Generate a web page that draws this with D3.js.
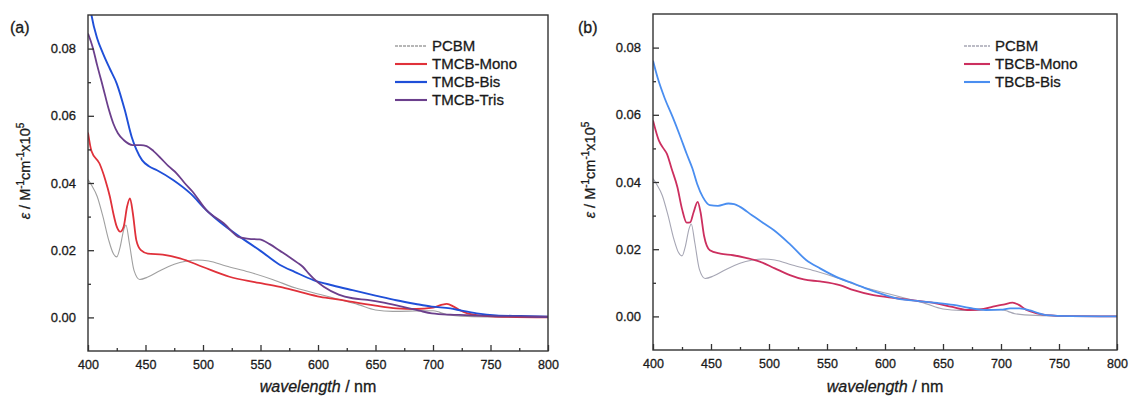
<!DOCTYPE html>
<html>
<head>
<meta charset="utf-8">
<script src="https://cdn.jsdelivr.net/npm/d3@7"></script>
<style>
body { margin: 0; background: #fff; }
text { font-family: "Liberation Sans", Arial, sans-serif; fill: #1a1a1a; stroke: #1a1a1a; stroke-width: 0.3px; }
</style>
</head>
<body>
<script>
// wavelength (nm), epsilon values
const pcbm = [[400,0.041],[403,0.0394],[408,0.036],[413,0.030],[418,0.023],[422,0.019],[425,0.018],[428,0.021],[431,0.026],[433,0.0275],[436,0.022],[440,0.014],[445,0.0113],[452,0.012],[462,0.0138],[475,0.0158],[485,0.0167],[495,0.0171],[505,0.0168],[520,0.0153],[540,0.0135],[561,0.0112],[580,0.0088],[602,0.0068],[620,0.0052],[635,0.0038],[650,0.0022],[665,0.0018],[685,0.0019],[700,0.002],[706,0.0015],[712,0.0008],[730,0.0003],[760,0.0001],[800,0]];

const tmcbMono = [[400,0.055],[403,0.0495],[410,0.0458],[415,0.041],[419,0.036],[422,0.031],[425,0.027],[428,0.0255],[431,0.027],[434,0.033],[436.5,0.0354],[439,0.031],[442,0.023],[446,0.020],[452,0.019],[465,0.0187],[480,0.0176],[500,0.015],[523,0.0121],[545,0.0105],[567,0.0091],[585,0.0075],[602,0.0061],[620,0.0052],[630,0.0046],[650,0.0035],[668,0.0027],[685,0.0025],[700,0.0029],[708,0.0038],[712,0.004],[718,0.0032],[723,0.0022],[730,0.0012],[738,0.0007],[760,0.0002],[800,0]];

const tmcbBis = [[400,0.097],[403,0.09],[408,0.083],[413,0.0786],[419,0.074],[425,0.0696],[432,0.0617],[438,0.0537],[442,0.050],[447,0.0468],[453,0.045],[460,0.0438],[474,0.0409],[489,0.0369],[503,0.0319],[518,0.0275],[532,0.024],[550,0.0198],[567,0.0156],[580,0.0135],[596,0.0111],[613,0.0095],[630,0.0081],[650,0.0065],[668,0.0051],[685,0.004],[699,0.0032],[715,0.0027],[725,0.002],[738,0.0012],[755,0.0006],[776,0.0004],[800,0.0002]];

const tmcbTris = [[400,0.0845],[404,0.0805],[408,0.075],[413,0.0686],[418,0.062],[422,0.0577],[426,0.0548],[431,0.0528],[439,0.0513],[446,0.0513],[451,0.051],[457,0.0495],[463,0.0475],[470,0.045],[477,0.0429],[484,0.040],[491,0.0374],[503,0.0319],[518,0.028],[532,0.0238],[540,0.0234],[549,0.0232],[558,0.0218],[567,0.0198],[575,0.018],[582,0.0163],[587,0.015],[592,0.013],[596,0.0116],[605,0.0091],[618,0.0068],[630,0.0057],[643,0.0052],[656,0.0045],[673,0.0032],[688,0.002],[699,0.0012],[715,0.0008],[728,0.0007],[760,0.0003],[800,0.0002]];

const tbcbMono = [[400,0.0583],[405,0.0524],[409,0.050],[412,0.0484],[416,0.044],[421,0.0385],[425,0.032],[429,0.0279],[432,0.028],[435,0.031],[438.5,0.0341],[441,0.031],[444,0.024],[449,0.0197],[458,0.0187],[469,0.0182],[480,0.0174],[492,0.0163],[505,0.0143],[518,0.0123],[530,0.011],[544,0.0104],[561,0.0093],[573,0.0078],[590,0.0063],[610,0.0054],[628,0.0046],[644,0.0039],[658,0.0028],[673,0.0019],[685,0.0022],[693,0.0029],[702,0.0035],[710,0.0041],[715,0.0035],[722,0.0019],[730,0.001],[739,0.0004],[760,0.0001],[800,0]];

const tbcbBis = [[400,0.0761],[404,0.071],[410,0.065],[417,0.0593],[423,0.054],[429,0.0484],[434,0.044],[438,0.0395],[443,0.0355],[449,0.0331],[456,0.0329],[465,0.0336],[470,0.0334],[475,0.0326],[485,0.0302],[495,0.0278],[504,0.0257],[518,0.0215],[532,0.0168],[544,0.0143],[561,0.0113],[573,0.0098],[590,0.0075],[610,0.0054],[630,0.0045],[645,0.0040],[659,0.0034],[673,0.0025],[687,0.0019],[700,0.002],[708,0.0024],[716,0.0024],[725,0.0018],[732,0.001],[739,0.0004],[760,0.0001],[800,0]];

const xTicks = [400,450,500,550,600,650,700,750,800];
const xMinor = [425,475,525,575,625,675,725,775];
const yTicks = [0,0.02,0.04,0.06,0.08];
const yMinor = [0.01,0.03,0.05,0.07];

const panelA = [
  {name:"PCBM", data:pcbm, color:"#a0a0a0", w:1.1},
  {name:"TMCB-Mono", data:tmcbMono, color:"#e0313a", w:1.8},
  {name:"TMCB-Bis", data:tmcbBis, color:"#1f4fd8", w:1.9},
  {name:"TMCB-Tris", data:tmcbTris, color:"#6b3f8c", w:1.8}
];
const panelB = [
  {name:"PCBM", data:pcbm, color:"#a6a6b4", w:1.1},
  {name:"TBCB-Mono", data:tbcbMono, color:"#cc2f5f", w:1.8},
  {name:"TBCB-Bis", data:tbcbBis, color:"#4a8ef0", w:1.8}
];

var svg = d3.select("body").append("svg")
  .attr("width", 1129).attr("height", 398);

function drawPanel(id, label, series, left, right, top, bottom, lx, ly, lineLen, labelX) {
  var g = svg.append("g");
  var x = d3.scaleLinear().domain([400, 800]).range([left, right]);
  var y = d3.scaleLinear().domain([-0.01, 0.09]).range([bottom, top]);

  g.append("clipPath").attr("id", "clip" + id)
    .append("rect").attr("x", left).attr("y", top)
    .attr("width", right - left).attr("height", bottom - top);

  var line = d3.line().x(d => x(d[0])).y(d => y(d[1])).curve(d3.curveMonotoneX);

  g.append("g").attr("clip-path", "url(#clip" + id + ")")
    .selectAll("path").data(series).enter().append("path")
    .attr("d", d => line(d.data))
    .attr("fill", "none")
    .attr("stroke", d => d.color)
    .attr("stroke-width", d => d.w)
    .attr("stroke-linejoin", "round");

  // axes, ticks pointing inward
  g.append("g").attr("class", "xa").attr("transform", "translate(0," + bottom + ")")
    .call(d3.axisBottom(x).tickValues(xTicks).tickSize(-6).tickPadding(9).tickFormat(d3.format("d")));
  g.append("g").attr("transform", "translate(0," + bottom + ")")
    .call(d3.axisBottom(x).tickValues(xMinor).tickSize(-3).tickFormat(""));
  g.append("g").attr("class", "ya").attr("transform", "translate(" + left + ",0)")
    .call(d3.axisLeft(y).tickValues(yTicks).tickSize(-6).tickPadding(12).tickFormat(d3.format(".2f")));
  g.append("g").attr("transform", "translate(" + left + ",0)")
    .call(d3.axisLeft(y).tickValues(yMinor).tickSize(-3).tickFormat(""));

  g.selectAll(".domain").remove();
  g.selectAll(".tick line").attr("stroke", "#333").attr("stroke-width", 1.3);
  g.selectAll(".tick text").style("font-family", "Liberation Sans, Arial, sans-serif")
    .attr("fill", "#1a1a1a");
  g.selectAll(".xa .tick text").style("font-size", "12.5px");
  g.selectAll(".ya .tick text").style("font-size", "13px");

  g.append("rect").attr("x", left).attr("y", top)
    .attr("width", right - left).attr("height", bottom - top)
    .attr("fill", "none").attr("stroke", "#333").attr("stroke-width", 1.4);

  // panel label
  g.append("text").attr("x", labelX).attr("y", 33)
    .style("font-size", "16px").text(label);

  // x title
  var xt = g.append("text").attr("x", (left + right) / 2).attr("y", 392)
    .attr("text-anchor", "middle").style("font-size", "16px");
  xt.append("tspan").style("font-style", "italic").text("wavelength");
  xt.append("tspan").text(" / nm");

  // y title
  var yt = g.append("text")
    .attr("transform", "translate(" + (left - 58) + "," + ((top + bottom) / 2 - 12) + ") rotate(-90)")
    .attr("text-anchor", "middle").style("font-size", "14.5px");
  yt.append("tspan").style("font-style", "italic").text("ε");
  yt.append("tspan").text(" / M");
  yt.append("tspan").attr("dy", -6).style("font-size", "10px").text("-1");
  yt.append("tspan").attr("dy", 6).text("cm");
  yt.append("tspan").attr("dy", -6).style("font-size", "10px").text("-1");
  yt.append("tspan").attr("dy", 6).text("x10");
  yt.append("tspan").attr("dy", -6).style("font-size", "10px").text("5");

  // legend
  var lg = g.append("g").attr("transform", "translate(" + lx + "," + ly + ")")
    .selectAll("g").data(series).enter().append("g")
    .attr("transform", (d, i) => "translate(0," + i * 18 + ")");
  lg.append("line").attr("x1", 0).attr("x2", lineLen).attr("y1", 0).attr("y2", 0)
    .attr("stroke", d => d.color).attr("stroke-width", d => d.w + 0.3)
    .attr("stroke-dasharray", d => d.name === "PCBM" ? "3,1" : null);
  lg.append("text").attr("x", lineLen + 5).attr("y", 5)
    .style("font-size", "15px").text(d => d.name);
}

drawPanel("a", "(a)", panelA, 88, 548, 15, 351, 395, 46, 32, 10);
drawPanel("b", "(b)", panelB, 653, 1117, 14, 350, 964, 46, 26, 578);
</script>
</body>
</html>
